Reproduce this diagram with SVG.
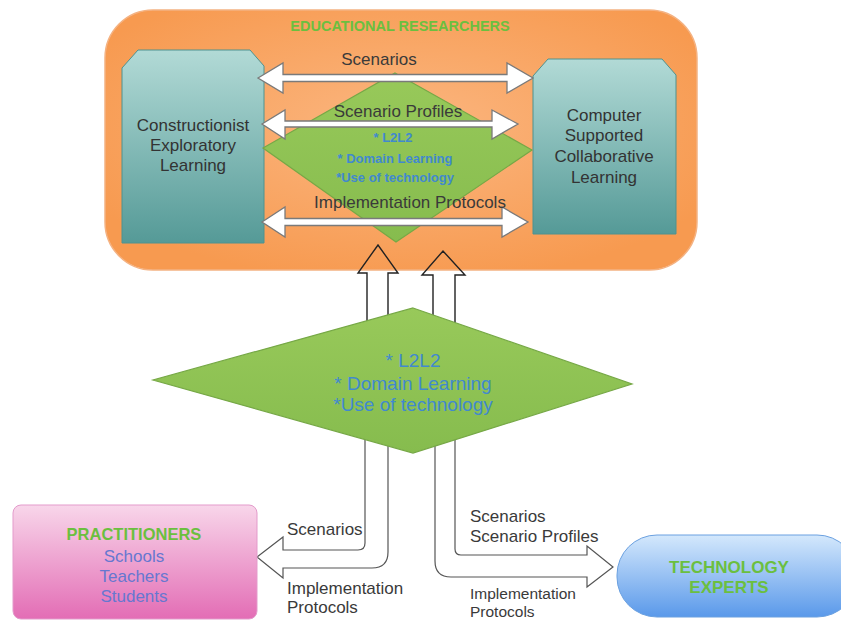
<svg xmlns="http://www.w3.org/2000/svg" width="841" height="622" viewBox="0 0 841 622">
<defs>
<radialGradient id="gOrange" cx="50%" cy="45%" r="60%">
<stop offset="0" stop-color="#FBB680"/>
<stop offset="1" stop-color="#F79A50"/>
</radialGradient>
<linearGradient id="gTeal" x1="0" y1="0" x2="0" y2="1">
<stop offset="0" stop-color="#B2DAD6"/>
<stop offset="1" stop-color="#559A97"/>
</linearGradient>
<linearGradient id="gGreen" x1="0" y1="0" x2="0" y2="1">
<stop offset="0" stop-color="#98C95A"/>
<stop offset="1" stop-color="#86BC4E"/>
</linearGradient>
<linearGradient id="gPink" x1="0" y1="0" x2="0" y2="1">
<stop offset="0" stop-color="#F8D6EA"/>
<stop offset="1" stop-color="#E36DB5"/>
</linearGradient>
<linearGradient id="gBlue" x1="0" y1="0" x2="0" y2="1">
<stop offset="0" stop-color="#D4E8FC"/>
<stop offset="1" stop-color="#5A99EA"/>
</linearGradient>
</defs>
<style>
text{font-family:"Liberation Sans",Arial,sans-serif}
.lbl{font-size:17px;fill:#3a3a3a}
.sm{font-size:15.5px}
.box{font-size:17px;fill:#333;text-anchor:middle}
.hdr{font-weight:bold;fill:#6BBF3F;text-anchor:middle}
.blue{fill:#4189CF;text-anchor:middle}
.dbl{fill:#fff;stroke:#7a7a7a;stroke-width:1.3}
.up{fill:none;stroke:#222;stroke-width:1.4}
.curve{fill:#fff;stroke:#555;stroke-width:1.2}
.dia{fill:url(#gGreen);stroke:#76A846;stroke-width:1.2}
</style>
<rect width="841" height="622" fill="#fff"/>

<g id="educational-researchers">
<rect x="105" y="10" width="592" height="260" rx="48" ry="48" fill="url(#gOrange)" stroke="#F4B282" stroke-width="1.5"/>
<text class="hdr" x="400" y="31" font-size="14.5">EDUCATIONAL RESEARCHERS</text>
</g>

<g id="constructionist">
<path d="M122,68 L138,50 L250,50 L264,66 L264,243 L122,243 Z" fill="url(#gTeal)" stroke="#4F928F" stroke-width="1"/>
<text class="box" x="193" y="131">Constructionist</text>
<text class="box" x="193" y="151">Exploratory</text>
<text class="box" x="193" y="171">Learning</text>
</g>

<g id="cscl">
<path d="M533,76 L548,59 L662,59 L676,75 L676,234 L533,234 Z" fill="url(#gTeal)" stroke="#4F928F" stroke-width="1"/>
<text class="box" x="604" y="121">Computer</text>
<text class="box" x="604" y="141">Supported</text>
<text class="box" x="604" y="162">Collaborative</text>
<text class="box" x="604" y="183">Learning</text>
</g>

<g id="inner-focus">
<polygon class="dia" points="395,73 532,150 396,242 263,148"/>
<text class="blue" x="393" y="142" font-size="13" font-weight="bold">* L2L2</text>
<text class="blue" x="395" y="163" font-size="13" font-weight="bold">* Domain Learning</text>
<text class="blue" x="395" y="182" font-size="13" font-weight="bold">*Use of technology</text>
</g>

<g id="connectors">
<path class="dbl" d="M258,78 L283,63 L283,74.5 L507,74.5 L507,63 L533,78 L507,93 L507,81.5 L283,81.5 L283,93 Z"/>
<path class="dbl" d="M262,124 L285,110 L285,121 L492,121 L492,110 L518,124 L492,139 L492,127 L285,127 L285,139 Z"/>
<path class="dbl" d="M262,222 L285,207 L285,218.5 L502,218.5 L502,207 L528,222 L502,237 L502,225.5 L285,225.5 L285,237 Z"/>
<text class="lbl" x="379" y="65" text-anchor="middle">Scenarios</text>
<text class="lbl" x="398" y="117" text-anchor="middle">Scenario Profiles</text>
<text class="lbl" x="410" y="208" text-anchor="middle">Implementation Protocols</text>
<path class="up" d="M367,330 L367,273 L358,273 L378,245 L398,273 L388,273 L388,330"/>
<path class="up" d="M433,330 L433,275 L422,275 L443,251 L465,275 L455,275 L455,330"/>
<path class="curve" d="M365,430 L365,543 Q365,550 358,550 L283,550 L283,537 L257,557 L283,578 L283,568 L372,568 Q388,568 388,552 L388,430 Z"/>
<path class="curve" d="M455,430 L455,549 Q455,555 461,555 L587,555 L587,546 L613,567 L587,587 L587,577 L451,577 Q435,577 435,561 L435,430 Z"/>
<text class="lbl" x="287" y="535">Scenarios</text>
<text class="lbl" x="287" y="594">Implementation</text>
<text class="lbl" x="287" y="613">Protocols</text>
<text class="lbl" x="470" y="522">Scenarios</text>
<text class="lbl" x="470" y="542">Scenario Profiles</text>
<text class="lbl sm" x="470" y="599">Implementation</text>
<text class="lbl sm" x="470" y="617">Protocols</text>
</g>

<g id="shared-focus">
<polygon class="dia" points="413,308 632,384 413,453 153,380"/>
<text class="blue" x="413" y="367" font-size="19">* L2L2</text>
<text class="blue" x="413" y="390" font-size="19">* Domain Learning</text>
<text class="blue" x="413" y="411" font-size="19">*Use of technology</text>
</g>

<g id="practitioners">
<rect x="13" y="505" width="244" height="114" rx="8" ry="8" fill="url(#gPink)" stroke="#E39BCB" stroke-width="1"/>
<text class="hdr" x="134" y="540" font-size="16.5">PRACTITIONERS</text>
<text x="134" y="562" font-size="17" fill="#6677D0" text-anchor="middle">Schools</text>
<text x="134" y="582" font-size="17" fill="#6677D0" text-anchor="middle">Teachers</text>
<text x="134" y="602" font-size="17" fill="#6677D0" text-anchor="middle">Students</text>
</g>

<g id="technology-experts">
<rect x="617" y="535" width="240" height="82" rx="40" ry="40" fill="url(#gBlue)" stroke="#6AA0E0" stroke-width="1"/>
<text class="hdr" x="729" y="573" font-size="17">TECHNOLOGY</text>
<text class="hdr" x="729" y="593" font-size="17">EXPERTS</text>
</g>
</svg>
